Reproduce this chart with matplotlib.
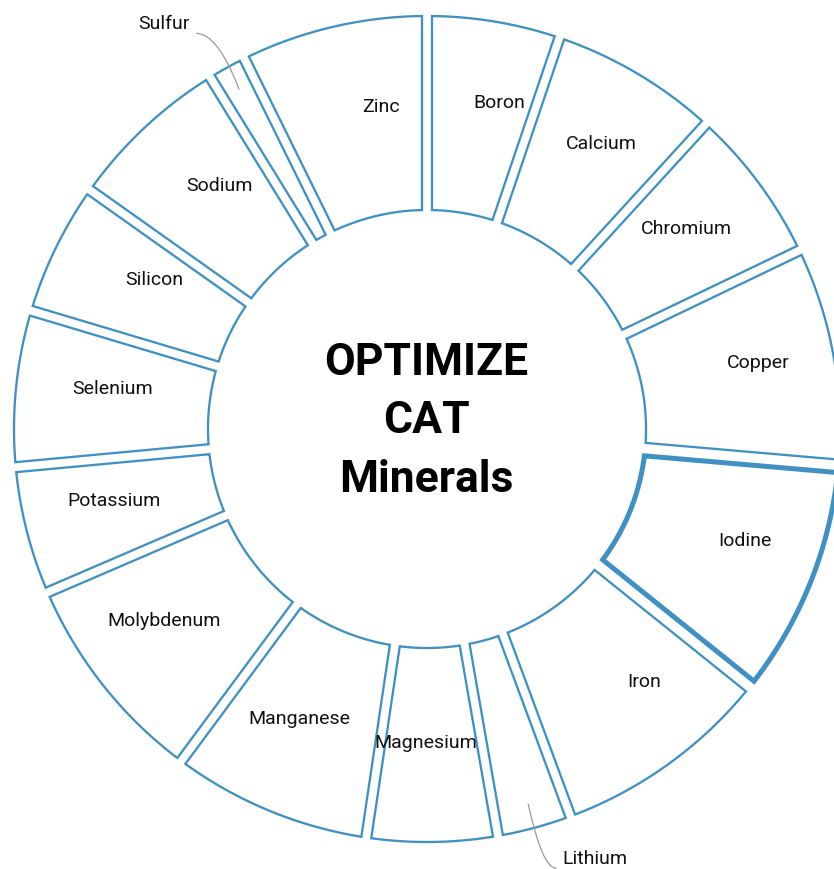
import numpy as np
import matplotlib.pyplot as plt
from matplotlib.patches import Polygon, PathPatch
from matplotlib.path import Path

# mineral shares (percent), clockwise from 12 o'clock
minerals = ["Boron", "Calcium", "Chromium", "Copper", "Iodine", "Iron", "Lithium",
            "Magnesium", "Manganese", "Molybdenum", "Potassium", "Selenium",
            "Silicon", "Sodium", "Sulfur", "Zinc"]
shares = [5.2, 6.6, 6.1, 8.5, 9.4, 8.6, 2.9, 5.1, 7.8, 8.4, 5.0, 6.1, 5.2, 6.4, 1.5, 7.3]
highlight = "Iodine"
title_lines = ["OPTIMIZE", "CAT", "Minerals"]

BLUE = "#3f91c4"
W, H = 834, 869
cx, cy = 427, 429
R, r = 413, 219
gap = 10

plt.rcParams["font.family"] = ["Roboto", "DejaVu Sans"]

fig = plt.figure(figsize=(W / 100, H / 100), dpi=100)
ax = fig.add_axes([0, 0, 1, 1])
ax.set_xlim(0, W)
ax.set_ylim(H, 0)
ax.axis("off")


def polar(ang, rho):
    t = np.radians(ang)
    return cx + rho * np.sin(t), cy - rho * np.cos(t)


def wedge_poly(a1, a2, g):
    do = np.degrees(np.arcsin(g / 2 / R))
    di = np.degrees(np.arcsin(g / 2 / r))
    outer = np.linspace(a1 + do, a2 - do, 80)
    inner = np.linspace(a2 - di, a1 + di, 60)
    pts = [polar(a, R) for a in outer] + [polar(a, r) for a in inner]
    return np.array(pts)


total = sum(shares)
angles = np.cumsum([0] + [s / total * 360 for s in shares])

for name, s, a1, a2 in zip(minerals, shares, angles[:-1], angles[1:]):
    hot = name == highlight
    poly = Polygon(wedge_poly(a1, a2, gap + (6 if hot else 0)), closed=True,
                   facecolor="white", edgecolor=BLUE,
                   linewidth=3.6 if hot else 1.65, joinstyle="miter", zorder=3 if hot else 2)
    ax.add_patch(poly)
    mid = (a1 + a2) / 2
    if s >= 4:
        # labels sit right-aligned a little past the slice centroid
        x, y = polar(mid, 322)
        ax.text(x + 46, y - 8, name, ha="right", va="center", fontsize=14,
                color="#111111", zorder=4)
    else:
        p2 = polar(mid, 388)
        p0 = polar(mid - 1.3, 458)
        ctrl = ((p0[0] + p2[0]) / 2, p0[1])
        path = Path([p0, ctrl, p2], [Path.MOVETO, Path.CURVE3, Path.CURVE3])
        ax.add_patch(PathPatch(path, facecolor="none", edgecolor="#999999", linewidth=0.9, zorder=5))
        right = p0[0] > cx
        ax.text(p0[0] + (6 if right else -7), p0[1] - 4, name,
                ha="left" if right else "right", va="baseline",
                fontsize=14, color="#111111", zorder=5)

for line, dy in zip(title_lines, [-66, -8, 51]):
    ax.text(cx - 1, cy + dy, line, ha="center", va="center", fontsize=32,
            fontweight="bold", color="black")

fig.savefig("out.png", dpi=100)
